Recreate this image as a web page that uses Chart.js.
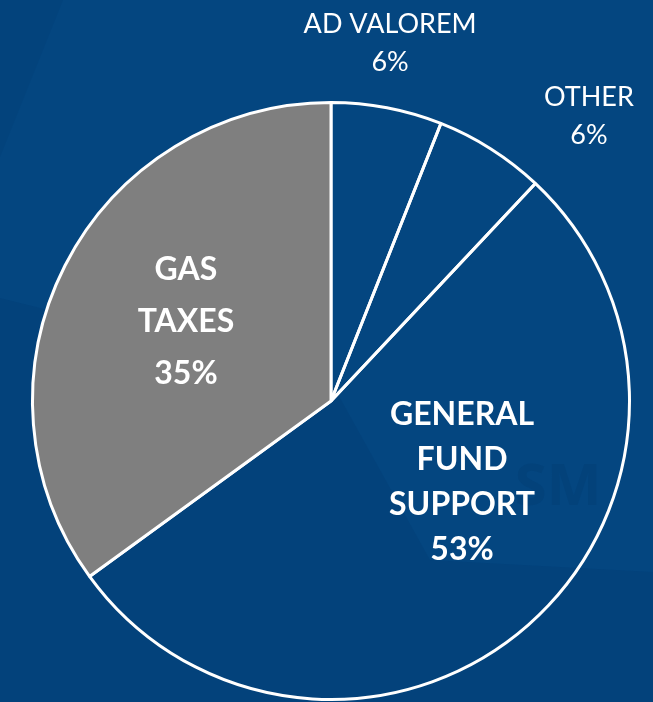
<!DOCTYPE html>
<html>
<head>
<meta charset="utf-8">
<script src="https://cdn.jsdelivr.net/npm/chart.js@4.4.1/dist/chart.umd.min.js"></script>
<style>
  html, body { margin: 0; padding: 0; background: #044680; }
  #revenuePie { display: block; }
</style>
</head>
<body>
<canvas id="revenuePie" width="653" height="702"></canvas>
<script>
// Revenue sources, clockwise from 12 o'clock
const categories = ['AD VALOREM', 'OTHER', 'GENERAL FUND SUPPORT', 'GAS TAXES'];
const labelLines = [['AD VALOREM'], ['OTHER'], ['GENERAL', 'FUND', 'SUPPORT'], ['GAS', 'TAXES']];
const shares = [6, 6, 53, 35];

const sliceFill = ['rgba(0,0,0,0)', 'rgba(0,0,0,0)', 'rgba(0,0,0,0)', '#7f7f7f'];

// where each label block sits, as an offset from the pie centre in radii
const labelSpots = [
    { dx: 0.198, dy: -1.200, bold: false, size: 27, lh: 38 },
    { dx: 0.864, dy: -0.955, bold: false, size: 27, lh: 38 },
    { dx: 0.439, dy: 0.272, bold: true, size: 32, lh: 45 },
    { dx: -0.486, dy: -0.265, bold: true, size: 32, lh: 52 }
];

// slide background with its faint darker facets and watermark
const backdrop = {
    id: 'backdrop',
    beforeDraw(chart) {
        const ctx = chart.ctx;
        const w = chart.width, h = chart.height;
        ctx.save();
        ctx.fillStyle = '#044680';
        ctx.fillRect(0, 0, w, h);

        ctx.fillStyle = '#03437c';
        ctx.beginPath();
        ctx.moveTo(0, 0);
        ctx.lineTo(63, 0);
        ctx.lineTo(0, 157);
        ctx.closePath();
        ctx.fill();

        ctx.fillStyle = '#03427b';
        ctx.beginPath();
        ctx.moveTo(0, 298);
        ctx.lineTo(330, 380);
        ctx.lineTo(430, 560);
        ctx.lineTo(w, 572);
        ctx.lineTo(w, h);
        ctx.lineTo(0, h);
        ctx.closePath();
        ctx.fill();

        ctx.fillStyle = 'rgba(2,60,112,0.35)';
        ctx.font = 'bold 58px "Open Sans"';
        ctx.textAlign = 'center';
        ctx.textBaseline = 'middle';
        ctx.fillText('SM', 558, 488);
        ctx.restore();
    }
};

// category name + percentage for every slice
const sliceLabels = {
    id: 'sliceLabels',
    afterDatasetsDraw(chart) {
        const ctx = chart.ctx;
        const arcs = chart.getDatasetMeta(0).data;
        const cx = arcs[0].x, cy = arcs[0].y, r = arcs[0].outerRadius;
        ctx.save();
        ctx.fillStyle = '#ffffff';
        ctx.textAlign = 'center';
        ctx.textBaseline = 'middle';
        labelSpots.forEach((spot, i) => {
            const lines = labelLines[i].concat([shares[i] + '%']);
            ctx.font = (spot.bold ? 'bold ' : '') + spot.size + 'px Lato';
            const x = cx + spot.dx * r;
            const top = cy + spot.dy * r - (lines.length - 1) * spot.lh / 2;
            lines.forEach((txt, j) => ctx.fillText(txt, x, top + j * spot.lh));
        });
        ctx.restore();
    }
};

new Chart(document.getElementById('revenuePie'), {
    type: 'pie',
    data: {
        labels: categories,
        datasets: [{
            data: shares,
            backgroundColor: sliceFill,
            borderColor: '#ffffff',
            borderWidth: 3
        }]
    },
    options: {
        responsive: false,
        animation: false,
        layout: { padding: { left: 31, right: 22, top: 101, bottom: 1 } },
        plugins: {
            legend: { display: false },
            tooltip: { enabled: false }
        }
    },
    plugins: [backdrop, sliceLabels]
});
</script>
</body>
</html>
